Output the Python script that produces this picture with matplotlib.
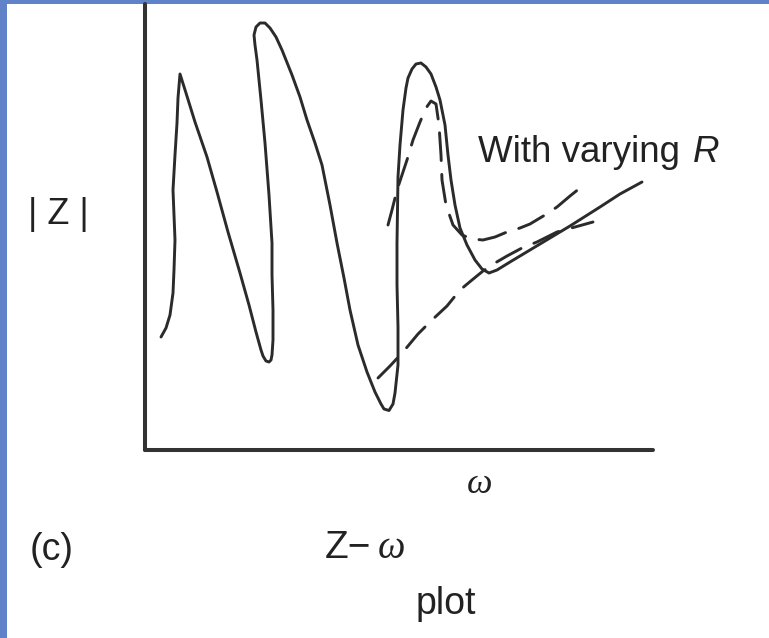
import matplotlib
matplotlib.use("Agg")
import matplotlib.pyplot as plt
from matplotlib.patches import Rectangle

plt.rcParams['font.family'] = ['Liberation Sans', 'DejaVu Sans']
plt.rcParams['lines.scale_dashes'] = False

# sketched |Z| vs omega response (arbitrary units)
omega_main = [16, 21, 25, 28, 29, 30, 29, 28, 30, 32, 33, 35,
              41, 50, 62, 72, 83, 95, 104, 111, 116, 118, 121, 124, 126,
              127, 128, 128, 127, 127, 124, 120, 116, 112, 110, 109, 111, 115,
              120, 125, 131, 137, 147, 155, 162, 170, 177, 185, 192, 199, 205,
              213, 222, 230, 236, 239, 244, 248, 250, 253, 253, 252, 252, 253,
              255, 258, 261, 263, 267, 271, 276, 281, 286, 291, 295, 300, 303,
              306, 310, 315, 322, 330, 337, 344, 352, 365, 395, 425, 455, 475,
              497]
z_main = [113, 122, 135, 157, 180, 210, 235, 260, 295, 327, 352, 376,
          357, 328, 293, 258, 218, 177, 145, 118, 100, 94, 89, 88, 90,
          95, 110, 140, 175, 207, 255, 307, 350, 390, 405, 415, 423, 427,
          427, 422, 413, 400, 375, 353, 330, 307, 285, 245, 207, 172, 140,
          105, 78, 58, 46, 41, 39.5, 46, 57, 85, 123, 165, 207, 273,
          305, 340, 362, 372, 381, 386, 387, 383, 376, 363, 350, 325, 295,
          270, 245, 222, 205, 190, 181, 177, 180, 188, 206, 224, 243, 256,
          268]

# curves for varying R
omega_r1 = [243, 247, 252, 257, 262, 268, 275, 281, 286, 291, 294, 296, 297,
            301, 308, 317, 327, 338, 350, 362, 375, 385, 400, 412, 425, 440]
z_r1 = [225, 240, 260, 275, 290, 310, 328, 342, 349, 346, 325, 295, 270,
        245, 225, 215, 211, 210, 213, 218, 222, 226, 235, 243, 254, 266]

omega_r2 = [233, 245, 258, 273, 287, 302, 315, 327, 338, 350, 362, 377,
            392, 412, 430, 448]
z_r2 = [72, 84, 98, 116, 130, 144, 160, 170, 179, 187, 194, 202,
        208, 218, 223, 228]

W, H = 769, 638
fig = plt.figure(figsize=(W / 100, H / 100), dpi=100)
fig.patch.set_facecolor('#5f82c8')
fig.add_artist(Rectangle((7 / W, 0), 1, 1 - 4 / H, transform=fig.transFigure,
                         facecolor='white', edgecolor='none', zorder=0))

ax = fig.add_axes([145 / W, 1 - 450 / H, 508 / W, 446 / H])
ax.set_facecolor('none')
ax.set_xlim(0, 508)
ax.set_ylim(0, 446)
for s in ['top', 'right']:
    ax.spines[s].set_visible(False)
for s in ['left', 'bottom']:
    ax.spines[s].set_linewidth(2.9)
    ax.spines[s].set_color('#333333')
    ax.spines[s].set_capstyle('round')
ax.set_xticks([])
ax.set_yticks([])

ink = '#2b2b2b'
ax.plot(omega_main, z_main, color=ink, lw=2.1,
        solid_capstyle='round', solid_joinstyle='round', clip_on=False)
ax.plot(omega_r1, z_r1, color=ink, lw=2.1, dashes=(20, 10),
        dash_capstyle='round', clip_on=False)
ax.plot(omega_r2, z_r2, color=ink, lw=2.1, dashes=(20, 10),
        dash_capstyle='round', clip_on=False)


def put(x, y, s, **kw):
    fig.text(x / W, 1 - y / H, s, color='#222222', **kw)


put(478, 162, 'With varying ', fontsize=26.5, va='baseline')
put(693, 162, 'R', fontsize=26.5, va='baseline', style='italic')
put(58, 215, '| Z |', fontsize=26, ha='center', va='center')
put(480, 493, 'ω', fontsize=26, ha='center', va='baseline',
    family=['Liberation Serif', 'DejaVu Serif'], style='italic')
put(30, 560, '(c)', fontsize=27, va='baseline')
put(325, 558, 'Z−', fontsize=28, va='baseline')
put(378, 558, 'ω', fontsize=28, va='baseline',
    family=['Liberation Serif', 'DejaVu Serif'], style='italic')
put(446, 614, 'plot', fontsize=27, ha='center', va='baseline')

fig.savefig('out.png', dpi=100)
